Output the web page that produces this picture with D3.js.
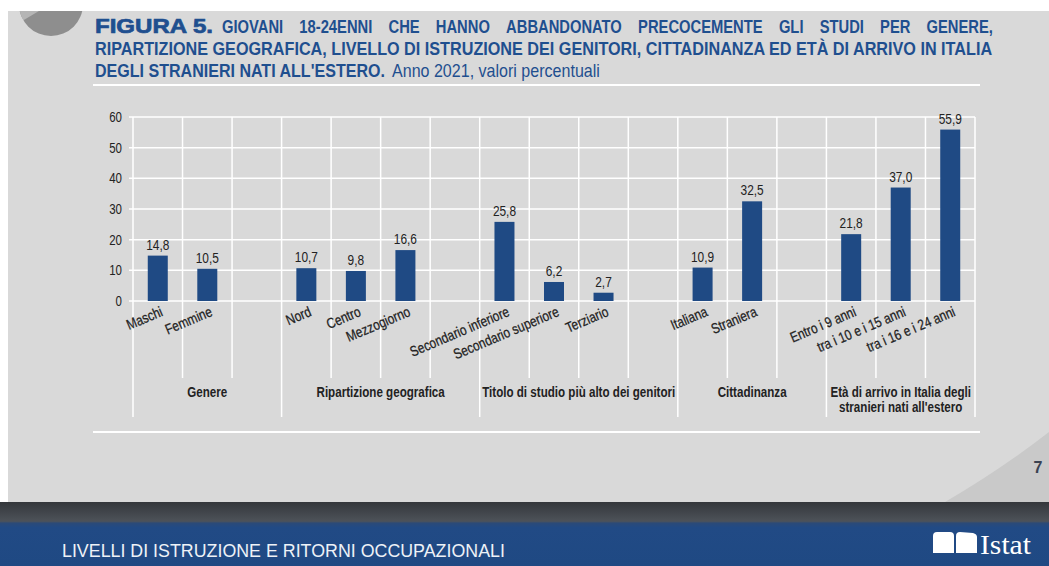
<!DOCTYPE html>
<html>
<head>
<meta charset="utf-8">
<script src="https://cdn.jsdelivr.net/npm/d3@7"></script>
<style>
  body { margin: 0; background: #fff; }
  svg { display: block; }
  text { font-family: "Liberation Sans", Arial, sans-serif; }
</style>
</head>
<body>
<div id="container"></div>
<script>
/* DATA */
const categories = ["Maschi", "Femmine", "Nord", "Centro", "Mezzogiorno",
  "Secondario inferiore", "Secondario superiore", "Terziario",
  "Italiana", "Straniera",
  "Entro i 9 anni", "tra i 10 e i 15 anni", "tra i 16 e i 24 anni"];
const values = [14.8, 10.5, 10.7, 9.8, 16.6, 25.8, 6.2, 2.7, 10.9, 32.5, 21.8, 37.0, 55.9];
const groupOf = [0, 0, 1, 1, 1, 2, 2, 2, 3, 3, 4, 4, 4];
const groupNames = [["Genere"], ["Ripartizione geografica"], ["Titolo di studio più alto dei genitori"],
  ["Cittadinanza"], ["Età di arrivo in Italia degli", "stranieri nati all'estero"]];
const yTicks = [0, 10, 20, 30, 40, 50, 60];

/* CONSTANTS AND GLOBALS */
const width = 1049, height = 566;
const plot = { left: 133, right: 975, top: 117, bottom: 301 };
const blue = "#1f4a84";
const titleBlue = "#1f4f8f";
const ink = "#222";

const it = d3.formatLocale({ decimal: ",", thousands: ".", grouping: [3], currency: ["€", ""] });
const fmt = it.format(".1f");

// no Arial Narrow here, so squeeze Liberation Sans horizontally
function narrow(sel, f = 0.82) {
  sel.each(function () {
    const w = this.getComputedTextLength();
    d3.select(this).attr("textLength", w * f).attr("lengthAdjust", "spacingAndGlyphs");
  });
  return sel;
}
// put a text at (x,y) and scale it horizontally to width w
function fitAt(sel, x, y, w) {
  const w0 = sel.attr("x", 0).attr("y", 0).node().getComputedTextLength();
  sel.attr("transform", `translate(${x},${y}) scale(${w / w0},1)`);
  return sel;
}

const svg = d3.select("#container")
  .append("svg")
  .attr("width", width)
  .attr("height", height);

const defs = svg.append("defs");
const band = defs.append("linearGradient").attr("id", "band").attr("x1", 0).attr("y1", 0).attr("x2", 0).attr("y2", 1);
band.append("stop").attr("offset", "0%").attr("stop-color", "#34373b");
band.append("stop").attr("offset", "30%").attr("stop-color", "#4d5259");
band.append("stop").attr("offset", "33%").attr("stop-color", "#2b4a78");
band.append("stop").attr("offset", "40%").attr("stop-color", "#214a85");
band.append("stop").attr("offset", "100%").attr("stop-color", "#1f4983");
defs.append("clipPath").attr("id", "pageclip")
  .append("rect").attr("x", 8).attr("y", 11).attr("width", width).attr("height", 500);

/* page background */
svg.append("rect").attr("width", width).attr("height", height).attr("fill", "#fff");
svg.append("rect").attr("x", 8).attr("y", 11).attr("width", width - 8).attr("height", 502 - 11).attr("fill", "#d9d9d9");
svg.append("path")
  .attr("d", "M945,502 Q1000,470 1049,432 L1049,502 Z")
  .attr("fill", "#c9c9c9");

// decorative pie in top-left corner
const deco = svg.append("g").attr("clip-path", "url(#pageclip)")
  .append("g").attr("transform", "translate(51,4)");
deco.append("circle").attr("r", 32).attr("fill", "#8e8e8e");
deco.append("path")
  .attr("d", d3.arc()({ innerRadius: 0, outerRadius: 32, startAngle: -2.1, endAngle: -1.0 }))
  .attr("fill", "#b5b5b5");

/* footer band */
svg.append("rect").attr("x", 0).attr("y", 502).attr("width", width).attr("height", height - 502).attr("fill", "url(#band)");
fitAt(svg.append("text")
  .attr("fill", "#eef2f7")
  .style("font-size", "18px")
  .text("LIVELLI DI ISTRUZIONE E RITORNI OCCUPAZIONALI"), 62, 557, 443);

const logo = svg.append("g").attr("fill", "#fff");
logo.append("path").attr("d", "M933,553 L933,536 Q933,532 937,532 L950,532 Q954,532 954,536 L954,553 Z");
logo.append("path").attr("d", "M956,553 L956,536 Q956,532 960,532 L973,533 Q977,534 977,537 L977,553 Z");
fitAt(logo.append("text")
  .style("font-family", "'Liberation Serif', 'DejaVu Serif', serif")
  .style("font-size", "27px")
  .text("Istat"), 980, 554, 51);

svg.append("text")
  .attr("x", 1038).attr("y", 473)
  .attr("text-anchor", "middle")
  .attr("fill", "#3a4252")
  .style("font-weight", "bold")
  .style("font-size", "16px")
  .text("7");

/* TITLE */
const title = svg.append("g").attr("fill", titleBlue);
fitAt(title.append("text")
  .style("font-weight", "900")
  .style("font-size", "21px")
  .style("stroke", titleBlue).style("stroke-width", "0.7px")
  .text("FIGURA 5."), 95, 33, 118);

// justified first line: spread words between x=222 and x=993
const line1 = "GIOVANI 18-24ENNI CHE HANNO ABBANDONATO PRECOCEMENTE GLI STUDI PER GENERE,".split(" ");
const wordNodes = line1.map(w => title.append("text")
  .style("font-weight", "bold")
  .style("font-size", "18px")
  .text(w));
const widths = wordNodes.map(n => n.node().getComputedTextLength() * 0.82);
const gap = (993 - 222 - d3.sum(widths)) / (line1.length - 1);
let cx = 222;
wordNodes.forEach((n, i) => {
  fitAt(n, cx, 33, widths[i]);
  cx += widths[i] + gap;
});

fitAt(title.append("text")
  .style("font-weight", "bold")
  .style("font-size", "18px")
  .text("RIPARTIZIONE GEOGRAFICA, LIVELLO DI ISTRUZIONE DEI GENITORI, CITTADINANZA ED ETÀ DI ARRIVO IN ITALIA"), 95, 55, 898);

fitAt(title.append("text")
  .style("font-weight", "bold")
  .style("font-size", "18px")
  .text("DEGLI STRANIERI NATI ALL'ESTERO."), 95, 77, 290);
fitAt(title.append("text")
  .style("font-size", "18px")
  .text("Anno 2021, valori percentuali"), 392, 77, 208);

svg.append("line")
  .attr("x1", 93).attr("x2", 980).attr("y1", 85).attr("y2", 85)
  .attr("stroke", "#fff").attr("stroke-width", 2);
svg.append("line")
  .attr("x1", 93).attr("x2", 980).attr("y1", 432).attr("y2", 432)
  .attr("stroke", "#fff").attr("stroke-width", 2);

/* CHART */
// one slot per category plus an empty slot between groups
const slots = [];
const groupStart = [];
groupNames.forEach((g, gi) => {
  groupStart.push(slots.length);
  categories.forEach((c, i) => { if (groupOf[i] === gi) slots.push(c); });
  if (gi < groupNames.length - 1) slots.push("gap" + gi);
});
groupStart.push(slots.length);

const x = d3.scaleBand().domain(slots).range([plot.left, plot.right]).padding(0);
const y = d3.scaleLinear().domain([0, 60]).range([plot.bottom, plot.top]);

const grid = svg.append("g").attr("stroke", "#fff").attr("stroke-width", 1.5);
grid.selectAll("line.h")
  .data(yTicks)
  .join("line")
  .attr("class", "h")
  .attr("x1", plot.left - 4).attr("x2", plot.right)
  .attr("y1", d => y(d)).attr("y2", d => y(d));

const bounds = d3.range(slots.length + 1);
grid.selectAll("line.v")
  .data(bounds)
  .join("line")
  .attr("class", "v")
  .attr("x1", d => plot.left + d * x.bandwidth())
  .attr("x2", d => plot.left + d * x.bandwidth())
  .attr("y1", plot.top)
  .attr("y2", d => groupStart.includes(d) ? 417 : 378);

// y axis
const yAxis = svg.append("g")
  .attr("transform", `translate(${plot.left - 4},0)`)
  .call(d3.axisLeft(y).tickValues(yTicks).tickSize(0).tickPadding(7));
yAxis.attr("font-family", null).attr("font-size", null);
yAxis.select(".domain").remove();
narrow(yAxis.selectAll("text")
  .attr("fill", ink)
  .style("font-size", "14px"));

// bars
const bw = 20;
svg.selectAll("rect.bar")
  .data(values)
  .join("rect")
  .attr("class", "bar")
  .attr("x", (d, i) => x(categories[i]) + x.bandwidth() / 2 - bw / 2)
  .attr("width", bw)
  .attr("y", d => y(d))
  .attr("height", d => y(0) - y(d))
  .attr("fill", blue);

narrow(svg.selectAll("text.val")
  .data(values)
  .join("text")
  .attr("class", "val")
  .attr("x", (d, i) => x(categories[i]) + x.bandwidth() / 2)
  .attr("y", d => y(d) - 6)
  .attr("text-anchor", "middle")
  .attr("fill", ink)
  .style("font-size", "14.5px")
  .text(d => fmt(d)));

// rotated category labels
narrow(svg.selectAll("text.cat")
  .data(categories)
  .join("text")
  .attr("class", "cat")
  .attr("transform", d => `translate(${x(d) + x.bandwidth() / 2 + 2},${306}) rotate(-23)`)
  .attr("text-anchor", "end")
  .attr("dy", "0.7em")
  .attr("fill", ink)
  .style("stroke", ink).style("stroke-width", "0.25px")
  .style("font-size", "14.5px")
  .text(d => d));

// group labels, one text per line
const groupLines = groupNames.flatMap((lines, gi) => lines.map((t, li) => ({
  t, li, cx: plot.left + (groupStart[gi] + groupStart[gi + 1]) / 2 * x.bandwidth()
})));
narrow(svg.selectAll("text.grp")
  .data(groupLines)
  .join("text")
  .attr("class", "grp")
  .attr("x", d => d.cx)
  .attr("y", d => 397 + d.li * 15)
  .attr("text-anchor", "middle")
  .attr("fill", ink)
  .style("font-size", "14.5px")
  .style("font-weight", "bold")
  .text(d => d.t), 0.8);
</script>
</body>
</html>
